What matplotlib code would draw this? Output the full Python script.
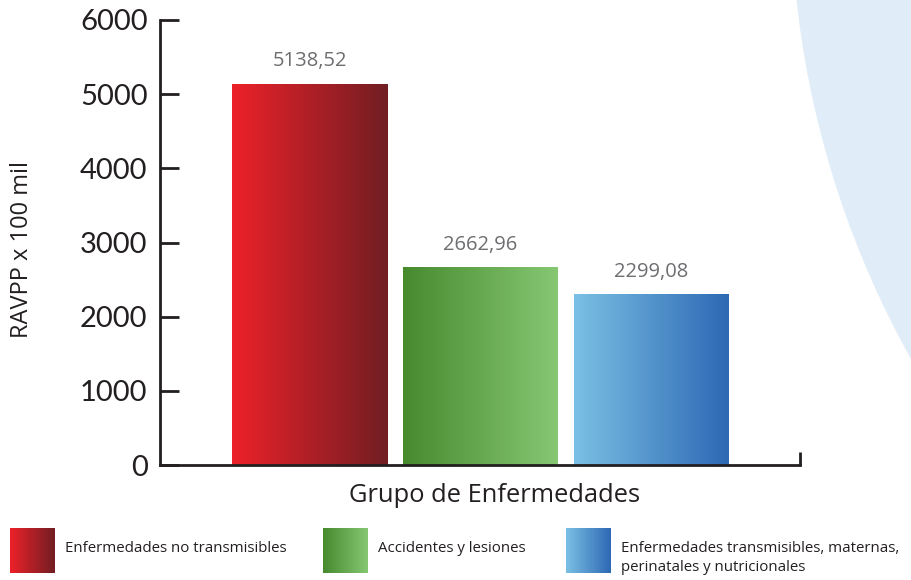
import numpy as np
import matplotlib
matplotlib.use("Agg")
import matplotlib.pyplot as plt
from matplotlib.colors import LinearSegmentedColormap
from matplotlib.patches import Circle

# Data
categories = ["Enfermedades no transmisibles",
              "Accidentes y lesiones",
              "Enfermedades transmisibles, maternas,\nperinatales y nutricionales"]
values = [5138.52, 2662.96, 2299.08]
value_labels = ["5138,52", "2662,96", "2299,08"]
y_ticks = [0, 1000, 2000, 3000, 4000, 5000, 6000]

# Gradient (left colour, right colour) for each group
gradients = [("#ED2129", "#711E23"),
             ("#478A2E", "#86C773"),
             ("#7BC0E4", "#2D68B4")]

W, H = 911, 580
fig = plt.figure(figsize=(W / 100, H / 100), dpi=100)
fig.patch.set_facecolor("white")

# Full-figure canvas in pixel units (background shape and legend)
bg = fig.add_axes([0, 0, 1, 1], zorder=0)
bg.set_xlim(0, W)
bg.set_ylim(H, 0)
bg.axis("off")
bg.add_patch(Circle((1737, -102), 946, facecolor="#E0EDF8", edgecolor="none"))

# Main plot area
ax = fig.add_axes([160 / W, (H - 465) / H, 640 / W, 445 / H], zorder=1)
ax.patch.set_alpha(0)

x = np.arange(len(values))
bar_w = 155 / 171
bars = ax.bar(x, values, width=bar_w, color="none", edgecolor="none")

grad = np.linspace(0, 1, 256).reshape(1, -1)
for b, (c0, c1) in zip(bars, gradients):
    cmap = LinearSegmentedColormap.from_list("g", [c0, c1])
    x0, y0 = b.get_x(), b.get_y()
    im = ax.imshow(grad, cmap=cmap, aspect="auto", interpolation="bicubic",
                   extent=(x0, x0 + b.get_width(), y0, y0 + b.get_height()),
                   zorder=2)
    im.set_clip_path(b)

for xi, v, lab in zip(x, values, value_labels):
    ax.annotate(lab, (xi, v), xytext=(0, 9), textcoords="offset points",
                ha="center", va="bottom", fontsize=14.5, color="#6D6E71",
                family=["Open Sans", "DejaVu Sans"])

ax.set_xlim(-149.5 / 171, (640 - 149.5) / 171)
ax.set_ylim(0, 6000)

for side in ("top", "right"):
    ax.spines[side].set_visible(False)
for side in ("left", "bottom"):
    ax.spines[side].set_linewidth(2)
    ax.spines[side].set_color("#231F20")
    ax.spines[side].set_zorder(3)
ax.plot([1, 1], [0, 13 / 445], transform=ax.transAxes, color="#231F20",
        lw=2, clip_on=False, solid_capstyle="butt")

ax.set_xticks([])
ax.set_yticks(y_ticks)
ax.set_yticklabels([str(t) for t in y_ticks], fontsize=21,
                   family=["Lato", "DejaVu Sans"], color="#231F20")
ax.tick_params(axis="y", direction="in", length=14, width=2,
               color="#231F20", pad=9)

ax.set_xlabel("Grupo de Enfermedades", fontsize=18.4, color="#231F20",
              family=["Open Sans", "DejaVu Sans"])
ax.xaxis.set_label_coords(0.523, -0.04, transform=ax.transAxes)
ax.xaxis.label.set_va("top")
fig.text(22 / W, (H - 250) / H, "RAVPP x 100 mil", rotation=90,
         ha="center", va="center", fontsize=17, color="#231F20",
         family=["Open Sans", "DejaVu Sans"])

# Legend
legend_x = [10, 323, 566]
for lx, (c0, c1), name in zip(legend_x, gradients, categories):
    cmap = LinearSegmentedColormap.from_list("g", [c0, c1])
    bg.imshow(grad, cmap=cmap, aspect="auto", interpolation="bicubic",
              extent=(lx, lx + 45, 573, 528))
    bg.text(lx + 55, 541, name, ha="left", va="top", fontsize=10.8,
            color="#231F20", linespacing=1.35,
            family=["Open Sans", "DejaVu Sans"])
bg.set_xlim(0, W)
bg.set_ylim(H, 0)

fig.savefig("out.png", dpi=100)
